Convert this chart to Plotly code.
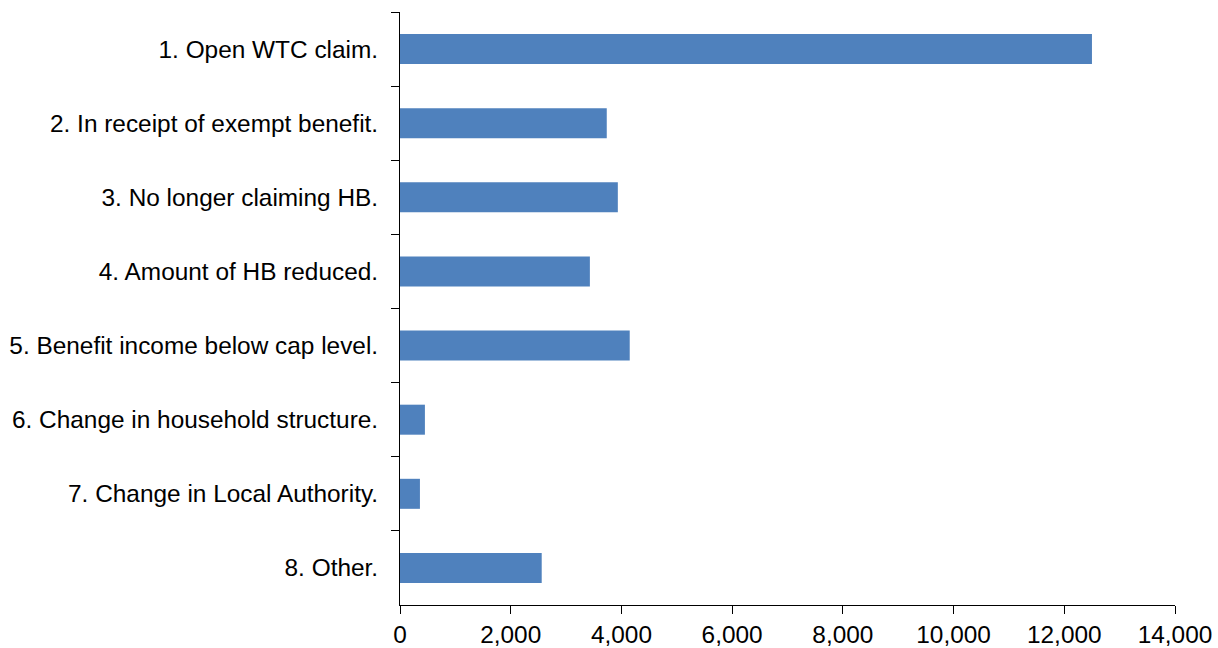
import plotly.graph_objects as go

categories = [
    "1. Open WTC claim.",
    "2. In receipt of exempt benefit.",
    "3. No longer claiming HB.",
    "4. Amount of HB reduced.",
    "5. Benefit income below cap level.",
    "6. Change in household structure.",
    "7. Change in Local Authority.",
    "8. Other.",
]
values = [12500, 3735, 3935, 3430, 4150, 450, 360, 2560]
x_ticks = [0, 2000, 4000, 6000, 8000, 10000, 12000, 14000]
x_tick_labels = ["0", "2,000", "4,000", "6,000", "8,000", "10,000", "12,000", "14,000"]

fig = go.Figure(go.Bar(
    y=categories,
    x=values,
    orientation="h",
    marker=dict(color="#4F81BD", line=dict(width=0)),
))

fig.update_layout(
    width=1218, height=648,
    margin=dict(l=400, r=43, t=12, b=43, autoexpand=False),
    paper_bgcolor="white", plot_bgcolor="white",
    bargap=0.595,
    showlegend=False,
    font=dict(family="Liberation Sans, Arial, sans-serif", size=24.4, color="black"),
)
fig.update_xaxes(
    range=[0, 14000],
    tickvals=x_ticks, ticktext=x_tick_labels,
    showline=True, linecolor="black", linewidth=1,
    ticks="outside", ticklen=8, tickcolor="black",
    showgrid=False, zeroline=False, automargin=False,
    tickfont=dict(size=24.4),
)
fig.update_yaxes(
    categoryorder="array", categoryarray=categories,
    autorange="reversed",
    showline=True, linecolor="black", linewidth=1,
    ticks="outside", ticklen=8, tickcolor="black",
    tickson="boundaries",
    showgrid=False, zeroline=False, automargin=False,
    tickfont=dict(size=24.4),
    ticklabelstandoff=16,
)

fig.write_html("out.html", config={"displayModeBar": False},
               post_script="document.body.style.margin='0';document.body.style.overflow='hidden';")
